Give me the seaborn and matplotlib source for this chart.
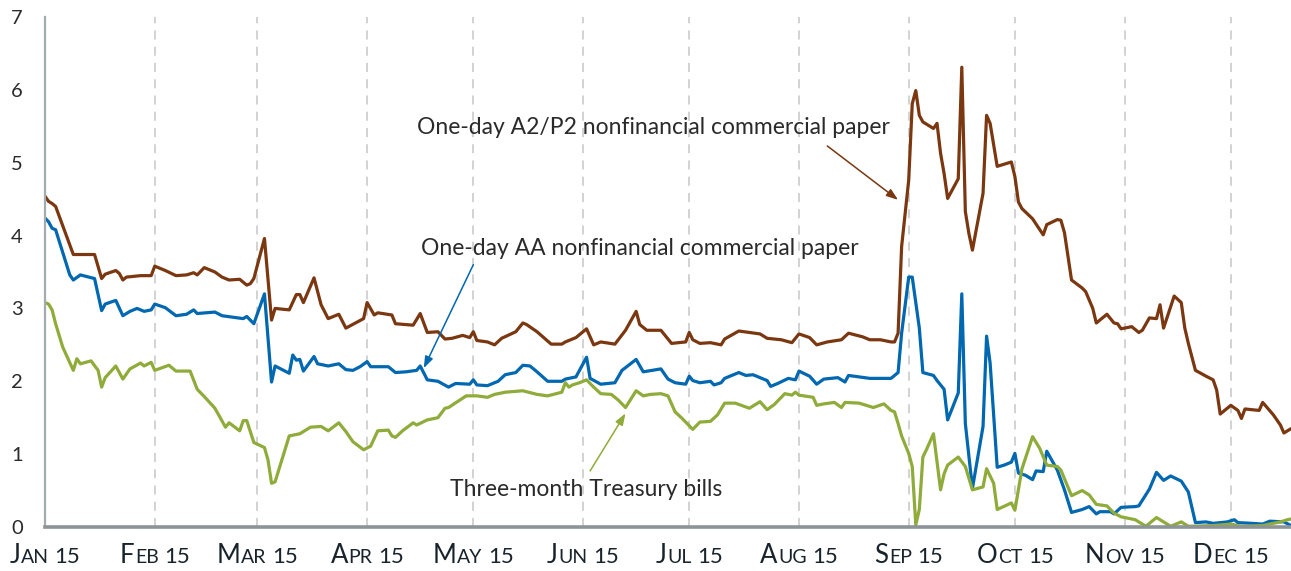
import pandas as pd
import matplotlib
matplotlib.use("Agg")
import matplotlib.pyplot as plt
from matplotlib.transforms import ScaledTranslation
import seaborn as sns

# Days after Jan 15, 2008 and rate (percent)
start = pd.Timestamp("2008-01-15")

a2p2_days = [0, 1, 2, 3, 8, 14, 16, 17, 20, 21, 22, 23, 27, 30, 31, 34, 37, 40, 42, 43,
             45, 48, 50, 52, 55, 57, 58, 59, 62, 64, 65, 69, 71, 72, 73, 76, 78, 80, 83, 85,
             90, 91, 93, 94, 98, 99, 104, 106, 108, 111, 113, 115, 118, 120, 121, 122, 125, 127, 129, 133,
             135, 136, 139, 143, 146, 147, 150, 153, 155, 157, 161, 164, 167, 168, 170, 174, 177, 181, 182, 183,
             185, 188, 191, 192, 196, 199, 202, 204, 208, 211, 213, 216, 218, 221, 225, 227, 231, 233, 236, 239,
             240, 241, 242, 244, 245, 246, 247, 248, 251, 252, 253, 254, 255, 258, 259, 260, 261, 262, 265, 266,
             267, 269, 271, 273, 274, 275, 276, 279, 282, 283, 286, 287, 288, 290, 293, 294, 296, 297, 300, 302,
             303, 304, 307, 309, 310, 312, 314, 315, 316, 319, 321, 322, 323, 325, 328, 330, 331, 332, 335, 337,
             338, 339, 343, 344, 347, 349, 350, 352]
a2p2_rate = [4.54, 4.47, 4.44, 4.40, 3.74, 3.74, 3.41, 3.47, 3.52, 3.48, 3.39, 3.43, 3.45, 3.45, 3.58, 3.52, 3.45, 3.46, 3.49, 3.46,
             3.56, 3.50, 3.43, 3.39, 3.40, 3.32, 3.34, 3.41, 3.96, 2.84, 3.00, 2.98, 3.19, 3.19, 3.08, 3.42, 3.05, 2.86, 2.92, 2.73,
             2.86, 3.08, 2.91, 2.94, 2.91, 2.79, 2.77, 2.93, 2.67, 2.68, 2.58, 2.59, 2.63, 2.60, 2.68, 2.56, 2.54, 2.50, 2.59, 2.68,
             2.80, 2.78, 2.68, 2.51, 2.51, 2.54, 2.60, 2.72, 2.50, 2.54, 2.51, 2.70, 2.96, 2.78, 2.70, 2.70, 2.52, 2.54, 2.67, 2.57,
             2.52, 2.53, 2.50, 2.58, 2.69, 2.67, 2.65, 2.59, 2.57, 2.53, 2.65, 2.60, 2.50, 2.54, 2.57, 2.66, 2.61, 2.57, 2.57, 2.54,
             2.54, 2.66, 3.85, 4.76, 5.81, 5.99, 5.65, 5.56, 5.47, 5.54, 5.13, 4.85, 4.51, 4.78, 6.31, 4.33, 4.03, 3.80, 4.58, 5.65,
             5.54, 4.95, 4.98, 5.01, 4.81, 4.46, 4.37, 4.23, 4.01, 4.15, 4.22, 4.21, 4.04, 3.39, 3.28, 3.23, 3.00, 2.80, 2.92, 2.80,
             2.79, 2.72, 2.75, 2.67, 2.70, 2.87, 2.86, 3.05, 2.73, 3.17, 3.08, 2.73, 2.52, 2.15, 2.07, 2.02, 1.88, 1.55, 1.67, 1.60,
             1.49, 1.62, 1.60, 1.71, 1.54, 1.40, 1.29, 1.35]

aa_days = [0, 1, 2, 3, 7, 8, 10, 14, 16, 17, 20, 22, 24, 26, 28, 30, 31, 34, 37, 40,
           42, 43, 48, 50, 56, 57, 59, 62, 64, 65, 69, 70, 71, 72, 73, 76, 77, 80, 83, 85,
           87, 89, 91, 92, 97, 99, 102, 105, 106, 108, 111, 114, 116, 120, 121, 122, 125, 128, 130, 133,
           135, 137, 139, 142, 146, 147, 150, 153, 154, 157, 161, 163, 167, 169, 174, 176, 178, 181, 182, 183,
           185, 188, 189, 191, 192, 196, 198, 200, 202, 204, 205, 207, 210, 212, 213, 216, 218, 220, 224, 226,
           227, 233, 239, 240, 241, 242, 244, 245, 247, 248, 251, 252, 254, 255, 258, 259, 260, 262, 265, 266,
           267, 269, 271, 273, 274, 275, 277, 279, 280, 282, 283, 286, 288, 290, 293, 295, 297, 298, 301, 302,
           304, 308, 309, 312, 314, 316, 318, 321, 323, 325, 328, 330, 334, 336, 337, 341, 344, 346, 350, 352]
aa_rate = [4.24, 4.19, 4.10, 4.08, 3.46, 3.39, 3.46, 3.41, 2.97, 3.06, 3.11, 2.90, 2.96, 3.00, 2.96, 2.98, 3.06, 3.01, 2.90, 2.92,
           2.98, 2.93, 2.95, 2.90, 2.86, 2.89, 2.79, 3.20, 1.99, 2.21, 2.11, 2.36, 2.29, 2.30, 2.14, 2.34, 2.24, 2.21, 2.24, 2.16,
           2.15, 2.20, 2.27, 2.20, 2.20, 2.12, 2.13, 2.15, 2.21, 2.02, 2.00, 1.92, 1.97, 1.96, 2.02, 1.95, 1.94, 2.00, 2.09, 2.12,
           2.22, 2.21, 2.13, 2.00, 2.00, 2.03, 2.06, 2.33, 2.04, 1.96, 1.98, 2.15, 2.30, 2.13, 2.17, 2.03, 1.98, 1.96, 2.07, 2.01,
           1.98, 2.00, 1.95, 1.98, 2.04, 2.12, 2.08, 2.09, 2.05, 2.01, 1.93, 1.97, 2.04, 2.02, 2.14, 2.07, 1.96, 2.03, 2.05, 1.99,
           2.08, 2.04, 2.04, 2.08, 2.12, 2.66, 3.43, 3.43, 2.73, 2.12, 2.08, 2.01, 1.89, 1.47, 1.84, 3.20, 1.42, 0.53, 1.38, 2.62,
           2.25, 0.82, 0.85, 0.89, 1.01, 0.74, 0.71, 0.65, 0.77, 0.76, 1.04, 0.78, 0.51, 0.20, 0.24, 0.28, 0.18, 0.21, 0.21, 0.18,
           0.27, 0.28, 0.29, 0.52, 0.75, 0.64, 0.70, 0.63, 0.48, 0.06, 0.07, 0.05, 0.07, 0.10, 0.06, 0.05, 0.04, 0.08, 0.07, 0.02]

tbill_days = [0, 1, 2, 3, 5, 8, 9, 10, 13, 15, 16, 17, 20, 22, 24, 27, 28, 30, 31, 35,
              37, 41, 43, 45, 48, 51, 52, 55, 56, 57, 58, 59, 62, 63, 64, 65, 69, 72, 75, 78,
              80, 83, 85, 87, 90, 92, 94, 97, 98, 99, 101, 104, 105, 108, 111, 113, 114, 119, 122, 125,
              127, 130, 135, 139, 142, 146, 147, 148, 149, 151, 153, 155, 157, 160, 162, 164, 167, 169, 171, 174,
              176, 178, 180, 182, 183, 185, 188, 190, 192, 195, 199, 202, 204, 206, 209, 211, 212, 213, 217, 218,
              220, 223, 225, 226, 230, 234, 237, 239, 240, 241, 242, 244, 245, 246, 247, 248, 249, 251, 253, 254,
              255, 258, 260, 262, 265, 266, 268, 269, 273, 274, 276, 279, 281, 283, 286, 287, 290, 293, 295, 297,
              300, 302, 304, 308, 311, 314, 318, 321, 323, 330, 335, 338, 344, 349, 351, 352]
tbill_rate = [3.08, 3.06, 2.98, 2.79, 2.47, 2.15, 2.31, 2.24, 2.28, 2.15, 1.92, 2.05, 2.21, 2.03, 2.17, 2.25, 2.21, 2.26, 2.15, 2.22,
              2.14, 2.14, 1.89, 1.79, 1.63, 1.37, 1.43, 1.32, 1.46, 1.46, 1.31, 1.16, 1.09, 0.92, 0.60, 0.62, 1.25, 1.28, 1.37, 1.38,
              1.32, 1.43, 1.31, 1.17, 1.06, 1.11, 1.32, 1.33, 1.25, 1.23, 1.32, 1.43, 1.40, 1.47, 1.50, 1.63, 1.64, 1.80, 1.80, 1.78,
              1.82, 1.85, 1.87, 1.82, 1.80, 1.85, 1.98, 1.92, 1.95, 1.98, 2.02, 1.92, 1.83, 1.82, 1.74, 1.64, 1.87, 1.80, 1.82, 1.83,
              1.80, 1.58, 1.49, 1.39, 1.34, 1.44, 1.45, 1.54, 1.70, 1.70, 1.63, 1.72, 1.61, 1.68, 1.83, 1.81, 1.85, 1.81, 1.78, 1.67,
              1.69, 1.71, 1.64, 1.71, 1.70, 1.64, 1.69, 1.60, 1.58, 1.42, 1.25, 1.01, 0.83, 0.03, 0.24, 0.96, 1.06, 1.28, 0.51, 0.73,
              0.85, 0.96, 0.83, 0.51, 0.55, 0.80, 0.60, 0.24, 0.33, 0.23, 0.80, 1.24, 1.08, 0.85, 0.83, 0.78, 0.43, 0.50, 0.44, 0.31,
              0.29, 0.19, 0.14, 0.10, 0.01, 0.13, 0.01, 0.07, 0.01, 0.02, 0.04, 0.01, 0.02, 0.07, 0.10, 0.11]

series_names = ["A2/P2", "AA", "Treasury"]
series_colors = ["#7a3710", "#0067b1", "#8fab3a"]
month_names = ["Jan", "Feb", "Mar", "Apr", "May", "Jun", "Jul", "Aug", "Sep", "Oct", "Nov", "Dec"]
month_ticks = pd.to_datetime([f"2008-{m:02d}-15" for m in range(1, 13)])

frames = []
for name, days, rate in zip(series_names, [a2p2_days, aa_days, tbill_days],
                            [a2p2_rate, aa_rate, tbill_rate]):
    frames.append(pd.DataFrame({"date": start + pd.to_timedelta(days, unit="D"),
                                "rate": rate, "series": name}))
df = pd.concat(frames, ignore_index=True)

sns.set_style("white")
plt.rcParams["font.family"] = ["Lato", "DejaVu Sans"]

text_color = "#2a2a2a"
fig = plt.figure(figsize=(12.91, 5.71), dpi=100)
ax = fig.add_axes([45 / 1291, 44 / 571, 1246 / 1291, 510 / 571])

# dashed month gridlines
for d in month_ticks:
    ax.axvline(d, color="#cfcfcf", lw=1.3, ls=(0, (5, 4)), zorder=0)

sns.lineplot(data=df, x="date", y="rate", hue="series", hue_order=series_names,
             palette=series_colors, estimator=None, sort=False, lw=2.3,
             legend=False, ax=ax)

ax.set_yticks(range(8))
ax.set_xticks(month_ticks)
ax.set_xticklabels([])
ax.set_xlim(start, start + pd.Timedelta(days=352))
ax.set_ylim(0, 7)
ax.set_xlabel("")
ax.set_ylabel("")
ax.tick_params(axis="x", length=0)
ax.tick_params(axis="y", direction="in", length=7, width=1.5, color="#9aa2a7",
               pad=16, labelsize=14.5, labelcolor=text_color)
for s in ["top", "right"]:
    ax.spines[s].set_visible(False)
ax.spines["left"].set_color("#a4abaf")
ax.spines["left"].set_linewidth(1.6)
ax.spines["bottom"].set_color("#8d9397")
ax.spines["bottom"].set_linewidth(2.6)

# series labels with arrows
ax.text(start + pd.Timedelta(days=172), 5.49, "One-day A2/P2 nonfinancial commercial paper",
        ha="center", va="center", fontsize=16.5, color=text_color)
ax.text(start + pd.Timedelta(days=168), 3.82, "One-day AA nonfinancial commercial paper",
        ha="center", va="center", fontsize=16.5, color=text_color)
ax.text(start + pd.Timedelta(days=153), 0.52, "Three-month Treasury bills",
        ha="center", va="center", fontsize=16.5, color=text_color)
arrows = [((221, 5.23), (241, 4.49)), ((121, 3.60), (107, 2.18)), ((154, 0.77), (164, 1.56))]
for ((d0, v0), (d1, v1)), c in zip(arrows, series_colors):
    ax.annotate("", xy=(start + pd.Timedelta(days=d1), v1),
                xytext=(start + pd.Timedelta(days=d0), v0),
                arrowprops=dict(arrowstyle="-|>,head_length=0.7,head_width=0.25",
                                color=c, lw=1.1, shrinkA=0, shrinkB=0))

# small-caps month labels built from pieces
xform = ax.get_xaxis_transform()
label_groups = []
for d, name in zip(month_ticks, month_names):
    first = ax.text(d, -0.071, name[0], transform=xform, ha="left", va="baseline",
                    fontsize=18.5, color="#18232b", clip_on=False)
    mid = ax.annotate(name[1:].upper(), xy=(1, -0.071), xycoords=(first, xform),
                      xytext=(0.5, 0), textcoords="offset points", ha="left",
                      va="baseline", fontsize=14, color="#18232b", annotation_clip=False)
    day = ax.annotate("15", xy=(1, -0.071), xycoords=(mid, xform),
                      xytext=(4, 0), textcoords="offset points", ha="left",
                      va="baseline", fontsize=16, color="#18232b", annotation_clip=False)
    label_groups.append((first, day))

fig.canvas.draw()
renderer = fig.canvas.get_renderer()
for first, last in label_groups:
    w = last.get_window_extent(renderer).x1 - first.get_window_extent(renderer).x0
    first.set_transform(xform + ScaledTranslation(-w / 2 / fig.dpi, 0, fig.dpi_scale_trans))

fig.savefig("out.png", dpi=100)
